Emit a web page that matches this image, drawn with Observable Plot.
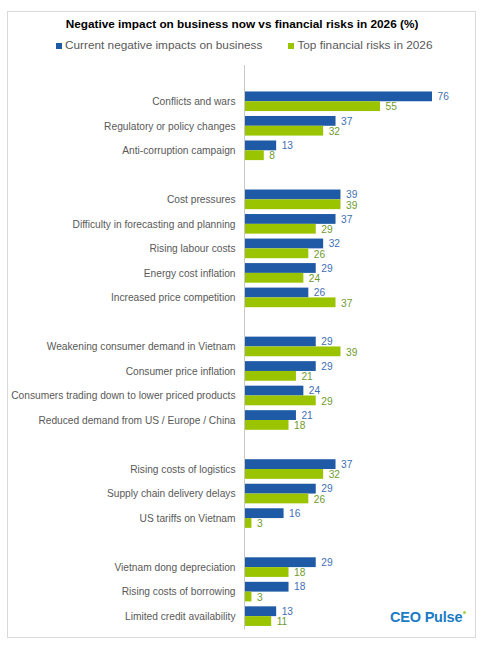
<!DOCTYPE html>
<html><head><meta charset="utf-8">
<script src="https://cdn.jsdelivr.net/npm/d3@7"></script>
<script src="https://cdn.jsdelivr.net/npm/@observablehq/plot@0.6"></script>
<style>
html,body{margin:0;padding:0;background:#fff;}
body{width:484px;height:647px;position:relative;overflow:hidden;font-family:"Liberation Sans",Arial,sans-serif;}
#frame{position:absolute;left:7px;top:11px;width:467px;height:625px;border:1px solid #d9d9d9;}
#title{position:absolute;left:0;width:484px;top:17px;text-align:center;font-weight:bold;font-size:11.8px;line-height:14px;color:#000;}
#legend{position:absolute;left:56px;top:38px;font-size:11.8px;line-height:14px;color:#595959;white-space:nowrap;}
#legend .sw{display:inline-block;width:6px;height:6px;margin-right:3px;vertical-align:0;}
#legend .item2{margin-left:26px;}
#logo{position:absolute;left:390px;top:609px;font-size:14.5px;font-weight:bold;color:#1b7bc4;letter-spacing:-0.2px;}
#logo .mark{position:absolute;right:-4px;top:2px;width:3px;height:3px;background:#a8cf45;border-radius:2px;}
#chart{position:absolute;left:0;top:60px;}
#chart svg{background:transparent;}
</style></head>
<body>
<div id="frame"></div>
<div id="title">Negative impact on business now vs financial risks in 2026 (%)</div>
<div id="legend"><span class="item"><span class="sw" style="background:#1f5aa6"></span>Current negative impacts on business</span><span class="item2"><span class="sw" style="background:#9bc400"></span>Top financial risks in 2026</span></div>
<div id="chart"></div>
<div id="logo">CEO Pulse<span class="mark"></span></div>
<script>
const categories = [
  "Conflicts and wars","Regulatory or policy changes","Anti-corruption campaign",
  "Cost pressures","Difficulty in forecasting and planning","Rising labour costs","Energy cost inflation","Increased price competition",
  "Weakening consumer demand in Vietnam","Consumer price inflation","Consumers trading down to lower priced products","Reduced demand from US / Europe / China",
  "Rising costs of logistics","Supply chain delivery delays","US tariffs on Vietnam",
  "Vietnam dong depreciation","Rising costs of borrowing","Limited credit availability"
];
const groupSizes = [3, 5, 4, 3, 3];
const current = [76,37,13, 39,37,32,29,26, 29,29,24,21, 37,29,16, 29,18,13];
const risks   = [55,32,8, 39,29,26,24,37, 39,21,29,18, 32,26,3, 18,3,11];
const seriesNames = ["Current negative impacts on business","Top financial risks in 2026"];
const colors = {bar: ["#1f5aa6","#9bc400"], label: ["#3f6fb5","#6f9a2c"]};

// slot domain with a blank spacer row between groups
const slots = [];
let k = 0;
groupSizes.forEach((n, g) => {
  if (g > 0) slots.push("gap" + g);
  for (let i = 0; i < n; i++) slots.push(categories[k++]);
});

const rows = categories.map((c, i) => ({category: c, current: current[i], risk: risks[i]}));

const H = 577, mTop = 29, mBottom = 8.6;
const step = (H - mTop - mBottom) / slots.length;
const half = step * 0.8 / 2;

const chart = Plot.plot({
  width: 484,
  height: H,
  marginTop: mTop,
  marginBottom: mBottom,
  marginLeft: 0,
  marginRight: 0,
  style: {fontFamily: "'Liberation Sans', Arial, sans-serif", background: "transparent"},
  x: {domain: [0, 76], range: [244, 432], axis: null},
  y: {domain: slots, paddingInner: 0.2, paddingOuter: 0.1, round: false, axis: null},
  marks: [
    Plot.barX(rows, {x: "current", y: "category", fill: colors.bar[0], insetBottom: half}),
    Plot.barX(rows, {x: "risk", y: "category", fill: colors.bar[1], insetTop: half}),
    Plot.ruleX([0], {stroke: "#c8c8c8", strokeWidth: 1, insetTop: -24, insetBottom: -1}),
    Plot.text(rows, {x: 0, y: "category", text: "category", textAnchor: "end", dx: -9, fontSize: 10.2, fill: "#595959"}),
    Plot.text(rows, {x: "current", y: "category", text: d => String(d.current), textAnchor: "start", dx: 5, dy: -half/2, fontSize: 10.2, fill: colors.label[0]}),
    Plot.text(rows, {x: "risk", y: "category", text: d => String(d.risk), textAnchor: "start", dx: 5, dy: half/2 + 0.5, fontSize: 10.2, fill: colors.label[1]})
  ]
});
document.getElementById("chart").appendChild(chart);
</script>
</body></html>
